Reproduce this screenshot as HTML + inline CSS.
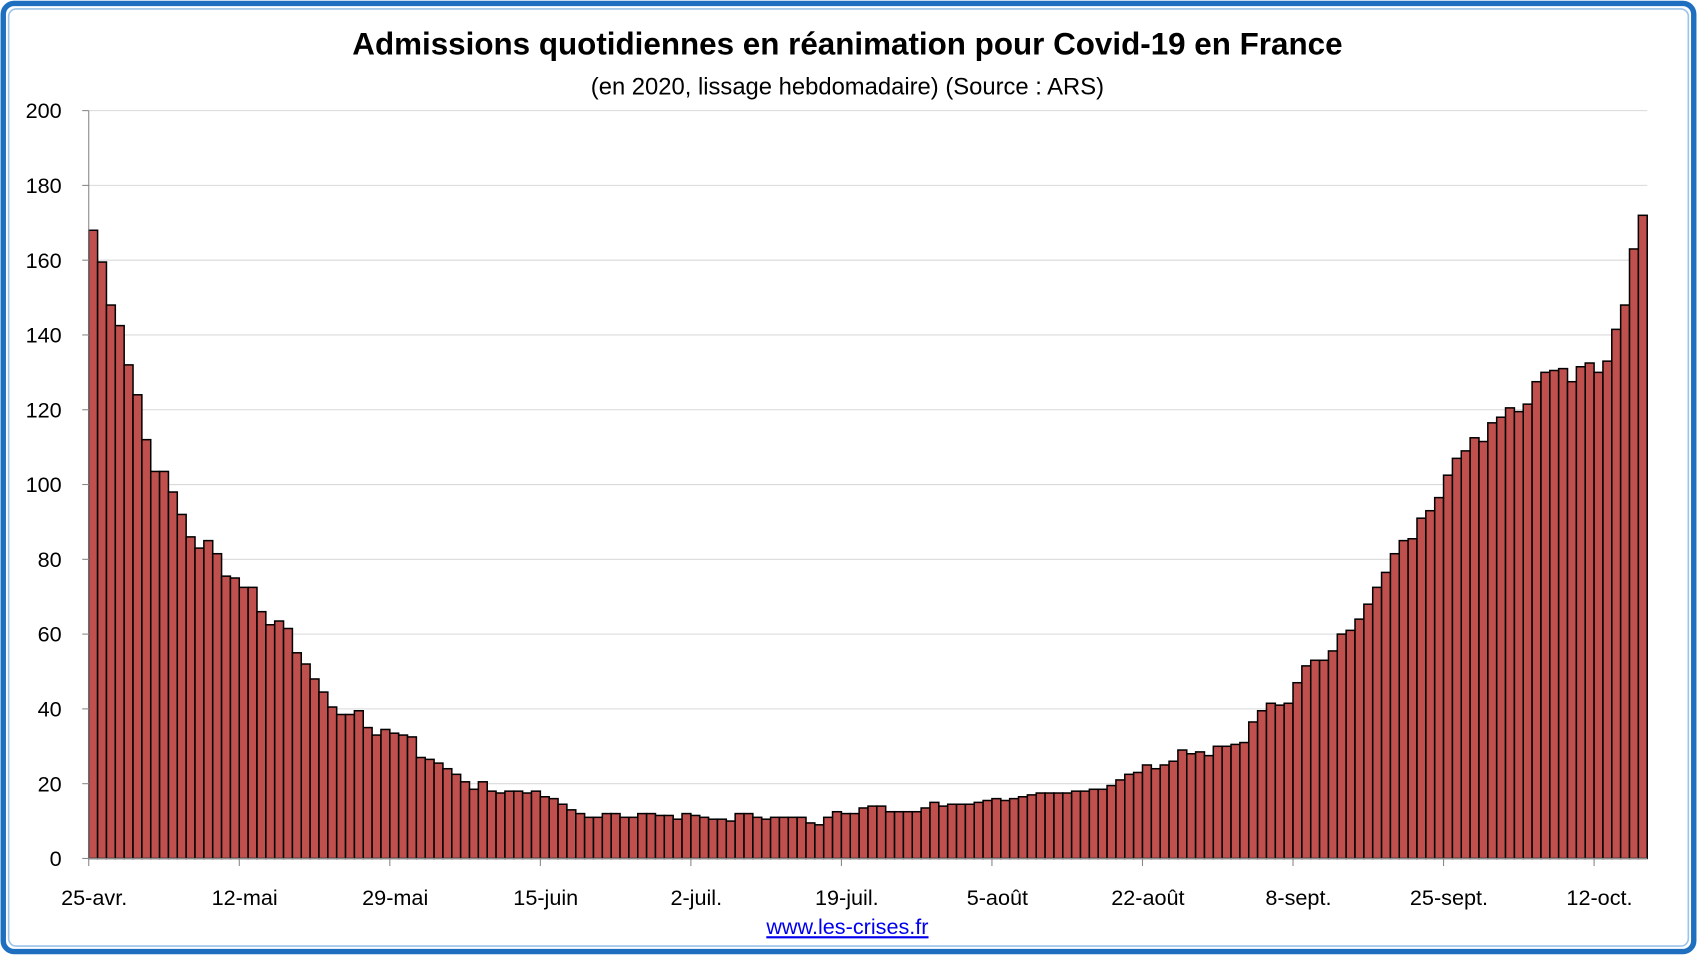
<!DOCTYPE html>
<html><head><meta charset="utf-8"><style>
html,body{margin:0;padding:0;background:#fff;}
svg{display:block;font-family:"Liberation Sans",sans-serif;}
</style></head><body>
<svg id="chart" width="1697" height="955" viewBox="0 0 1568 882" xmlns="http://www.w3.org/2000/svg">
<rect x="3" y="3" width="1562" height="876" rx="10" fill="#fff" stroke="#1e6fc0" stroke-width="5"/>
<rect x="8" y="8" width="1552" height="866" rx="7" fill="none" stroke="#9cc3e8" stroke-width="1.5"/>
<text x="783" y="50" text-anchor="middle" font-size="29" font-weight="bold" fill="#000">Admissions quotidiennes en réanimation pour Covid-19 en France</text>
<text x="783" y="87" text-anchor="middle" font-size="22" fill="#000">(en 2020, lissage hebdomadaire) (Source : ARS)</text>
<g id="grid"></g>
<g id="bars"></g>
<g id="axes"></g>
<a><text x="783" y="863" text-anchor="middle" font-size="20" fill="#0000ee" text-decoration="underline">www.les-crises.fr</text></a>
</svg>
<script>
const values=[168,159.5,148,142.5,132,124,112,103.5,103.5,98,92,86,83,85,81.5,75.5,75,72.5,72.5,66,62.5,63.5,61.5,55,52,48,44.5,40.5,38.5,38.5,39.5,35,33,34.5,33.5,33,32.5,27,26.5,25.5,24,22.5,20.5,18.5,20.5,18,17.5,18,18,17.5,18,16.5,16,14.5,13,12,11,11,12,12,11,11,12,12,11.5,11.5,10.5,12,11.5,11,10.5,10.5,10,12,12,11,10.5,11,11,11,11,9.5,9,11,12.5,12,12,13.5,14,14,12.5,12.5,12.5,12.5,13.5,15,14,14.5,14.5,14.5,15,15.5,16,15.5,16,16.5,17,17.5,17.5,17.5,17.5,18,18,18.5,18.5,19.5,21,22.5,23,25,24,25,26,29,28,28.5,27.5,30,30,30.5,31,36.5,39.5,41.5,41,41.5,47,51.5,53,53,55.5,60,61,64,68,72.5,76.5,81.5,85,85.5,91,93,96.5,102.5,107,109,112.5,111.5,116.5,118,120.5,119.5,121.5,127.5,130,130.5,131,127.5,131.5,132.5,130,133,141.5,148,163,172];
const yTicks=[0,20,40,60,80,100,120,140,160,180,200];
const xLabels=["25-avr.","12-mai","29-mai","15-juin","2-juil.","19-juil.","5-août","22-août","8-sept.","25-sept.","12-oct."];
const labelEvery=17;
const NS="http://www.w3.org/2000/svg";
const X0=82,X1=1522,Y0=793,Y1=102;
const n=values.length, bw=(X1-X0)/n;
const xPos=i=>X0+i*bw;
const yPos=v=>Y0-(v/200)*(Y0-Y1);
function mk(tag,attrs,parent){const e=document.createElementNS(NS,tag);for(const k in attrs)e.setAttribute(k,attrs[k]);parent.appendChild(e);return e;}
const grid=document.getElementById('grid'),bars=document.getElementById('bars'),axes=document.getElementById('axes');
yTicks.forEach(t=>{
  if(t>0){const g=mk('line',{x1:X0,x2:X1,y1:yPos(t),y2:yPos(t),stroke:'#d9d9d9','stroke-width':1},grid);
  
  }
  const tk=mk('line',{x1:X0-6,x2:X0,y1:yPos(t),y2:yPos(t),stroke:'#888','stroke-width':1},axes);
  
  
  const l=mk('text',{x:57,y:yPos(t)+7,'text-anchor':'end','font-size':20,fill:'#000'},axes);
  l.textContent=t;
  
  
});
values.forEach((v,i)=>{
  const r=mk('rect',{x:xPos(i),y:yPos(v),width:bw,height:Y0-yPos(v),fill:'#c0504d',stroke:'#000','stroke-width':1.4},bars);
  
  
});
const ya=mk('line',{x1:X0,x2:X0,y1:Y1,y2:Y0,stroke:'#888','stroke-width':1},axes);


const xa=mk('line',{x1:X0,x2:X1,y1:Y0,y2:Y0,stroke:'#888','stroke-width':1},axes);


xLabels.forEach((s,k)=>{
  const i=k*labelEvery;
  const tk=mk('line',{x1:xPos(i),x2:xPos(i),y1:Y0,y2:Y0+7,stroke:'#888','stroke-width':1},axes);
  
  
  const l=mk('text',{x:xPos(i)+5,y:836,'text-anchor':'middle','font-size':20,fill:'#000'},axes);
  l.textContent=s;
  
  
});
</script>
</body></html>
